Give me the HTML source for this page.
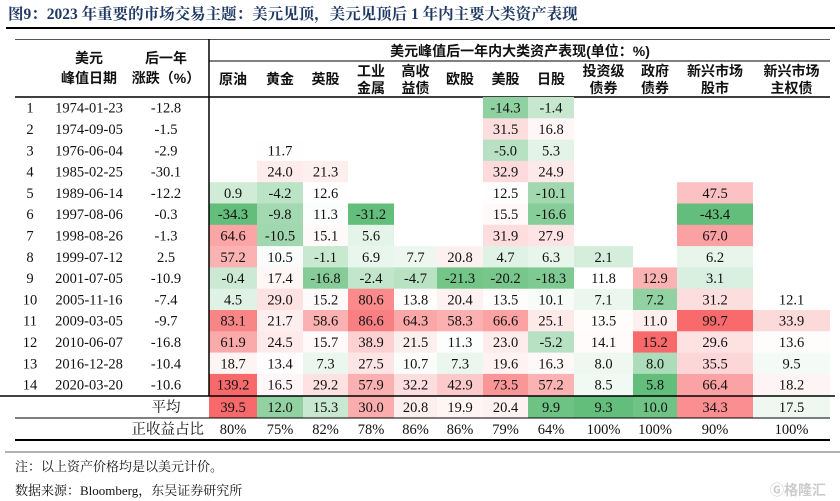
<!DOCTYPE html>
<html><head><meta charset="utf-8">
<style>
html,body{margin:0;padding:0;background:#fff;}
svg{display:block;}
.t{font-family:"Liberation Serif","Noto Serif CJK SC",serif;font-size:14.5px;fill:#111;}
.h{font-family:"Liberation Sans","Noto Sans CJK SC",sans-serif;font-size:14px;font-weight:bold;fill:#111;}
</style></head>
<body>
<svg id="chart" width="840" height="501" viewBox="0 0 840 501" xmlns="http://www.w3.org/2000/svg">
<text x="8" y="19" style="font-family:'Liberation Serif','Noto Serif CJK SC',serif;font-size:15.5px;font-weight:bold;fill:#1f3864">图9：2023 年重要的市场交易主题：美元见顶，美元见顶后 1 年内主要大类资产表现</text>
<line x1="6" y1="28" x2="835" y2="28" stroke="#000" stroke-width="2"/>
<line x1="15" y1="39.5" x2="830" y2="39.5" stroke="#555" stroke-width="1"/>
<line x1="209" y1="61" x2="830" y2="61" stroke="#000" stroke-width="1"/>
<line x1="15" y1="97" x2="830" y2="97" stroke="#000" stroke-width="1.5"/>
<text class="h" x="89" y="63" text-anchor="middle">美元</text>
<text class="h" x="89" y="83" text-anchor="middle">峰值日期</text>
<text class="h" x="166" y="63" text-anchor="middle">后一年</text>
<text class="h" x="166" y="83" text-anchor="middle">涨跌（%）</text>
<text class="h" x="520" y="56" text-anchor="middle">美元峰值后一年内大类资产表现(单位：%)</text>
<g id="cells"></g>
<g id="heads"></g>
<line x1="209" y1="39" x2="209" y2="396" stroke="#000" stroke-width="1.5"/>
<line x1="0" y1="396" x2="835" y2="396" stroke="#000" stroke-width="1.5"/>
<line x1="15" y1="418" x2="830" y2="418" stroke="#000" stroke-width="1"/>
<line x1="15" y1="440" x2="830" y2="440" stroke="#000" stroke-width="2"/>
<line x1="5" y1="452" x2="840" y2="452" stroke="#666" stroke-width="1"/>
<text x="15" y="471" style="font-family:'Liberation Serif','Noto Serif CJK SC',serif;font-size:13px;fill:#111">注：以上资产价格均是以美元计价。</text>
<text x="15" y="495" style="font-family:'Liberation Serif','Noto Serif CJK SC',serif;font-size:13px;fill:#111">数据来源：Bloomberg，东吴证券研究所</text>
<text x="770" y="495" style="font-family:'Liberation Sans','Noto Sans CJK SC',sans-serif;font-size:14px;font-weight:bold;fill:#ccc">Ⓖ格隆汇</text>
</svg>
<script>
const assets = ["原油","黄金","英股","工业|金属","高收|益债","欧股","美股","日股","投资级|债券","政府|债券","新兴市场|股市","新兴市场|主权债"];
const dates = ["1974-01-23","1974-09-05","1976-06-04","1985-02-25","1989-06-14","1997-08-06","1998-08-26","1999-07-12","2001-07-05","2005-11-16","2009-03-05","2010-06-07","2016-12-28","2020-03-20"];
const usdChange = ["-12.8","-1.5","-2.9","-30.1","-12.2","-0.3","-1.3","2.5","-10.9","-7.4","-9.7","-16.8","-10.4","-10.6"];
const r1 = [null,null,null,null,null,null,-14.3,-1.4,null,null,null,null];
const r2 = [null,null,null,null,null,null,31.5,16.8,null,null,null,null];
const r3 = [null,11.7,null,null,null,null,-5.0,5.3,null,null,null,null];
const r4 = [null,24.0,21.3,null,null,null,32.9,24.9,null,null,null,null];
const r5 = [0.9,-4.2,12.6,null,null,null,12.5,-10.1,null,null,47.5,null];
const r6 = [-34.3,-9.8,11.3,-31.2,null,null,15.5,-16.6,null,null,-43.4,null];
const r7 = [64.6,-10.5,15.1,5.6,null,null,31.9,27.9,null,null,67.0,null];
const r8 = [57.2,10.5,-1.1,6.9,7.7,20.8,4.7,6.3,2.1,null,6.2,null];
const r9 = [-0.4,17.4,-16.8,-2.4,-4.7,-21.3,-20.2,-18.3,11.8,12.9,3.1,null];
const r10 = [4.5,29.0,15.2,80.6,13.8,20.4,13.5,10.1,7.1,7.2,31.2,12.1];
const r11 = [83.1,21.7,58.6,86.6,64.3,58.3,66.6,25.1,13.5,11.0,99.7,33.9];
const r12 = [61.9,24.5,15.7,38.9,21.5,11.3,23.0,-5.2,14.1,15.2,29.6,13.6];
const r13 = [18.7,13.4,7.3,27.5,10.7,7.3,19.6,16.3,8.0,8.0,35.5,9.5];
const r14 = [139.2,16.5,29.2,57.9,32.2,42.9,73.5,57.2,8.5,5.8,66.4,18.2];
const values = [r1,r2,r3,r4,r5,r6,r7,r8,r9,r10,r11,r12,r13,r14];
const averages = [39.5,12.0,15.3,30.0,20.8,19.9,20.4,9.9,9.3,10.0,34.3,17.5];
const positiveShare = ["80%","75%","82%","78%","86%","86%","79%","64%","100%","100%","90%","100%"];

const colEdges = [209,257,303,348,394,437,483,528,574,633,677,753,830];
const top0 = 97, rowH = 21.3;
const NS = "http://www.w3.org/2000/svg";
const cells = document.getElementById("cells");
const heads = document.getElementById("heads");
function mix(a,b,t){t=Math.max(0,Math.min(1,t));return `rgb(${a.map((v,i)=>Math.round(v+(b[i]-v)*t)).join(",")})`;}
const W=[255,255,255], G=[99,190,123], R=[248,105,107];
function color(v,lo,mid,hi){return v<mid?mix(W,G,(mid-v)/(mid-lo)):mix(W,R,(v-mid)/(hi-mid));}
function colorFor(v,j){
  if(j===9){ // government bonds: column-relative scale
    const col=values.map(r=>r[j]).filter(x=>x!==null);
    const lo=Math.min(...col), hi=Math.max(...col);
    return color(v,lo,(lo+hi)/2,hi);
  }
  return color(v,-25,12,100);
}
function txt(x,y,s,cls,anchor){const t=document.createElementNS(NS,"text");t.setAttribute("x",x);t.setAttribute("y",y);t.setAttribute("class",cls);t.setAttribute("text-anchor",anchor||"middle");t.textContent=s;return t;}
function rect(x,y,w,h,f){const r=document.createElementNS(NS,"rect");r.setAttribute("x",x);r.setAttribute("y",y);r.setAttribute("width",w);r.setAttribute("height",h);r.setAttribute("fill",f);return r;}

assets.forEach((a,j)=>{
  const cx=(colEdges[j]+colEdges[j+1])/2;
  const parts=a.split("|");
  const g=document.createElementNS(NS,"g");
  
  
  if(parts.length===1){g.appendChild(txt(cx,84,parts[0],"h"));}
  else{g.appendChild(txt(cx,76,parts[0],"h"));g.appendChild(txt(cx,93,parts[1],"h"));}
  heads.appendChild(g);
});

values.forEach((row,i)=>{
  const y=top0+i*rowH, ty=y+rowH/2+5;
  const g=document.createElementNS(NS,"g");
  
  
  g.appendChild(txt(30,ty,String(i+1),"t"));
  g.appendChild(txt(89,ty,dates[i],"t"));
  g.appendChild(txt(166,ty,usdChange[i],"t"));
  row.forEach((v,j)=>{
    if(v===null) return;
    const x0=colEdges[j], w=colEdges[j+1]-x0;
    const r=rect(x0,y,w,rowH+0.3,colorFor(v,j));
    
    
    g.appendChild(r);
    g.appendChild(txt(x0+w/2,ty,v.toFixed(1),"t"));
  });
  cells.appendChild(g);
});

const ay=396, ah=22;
const ag=document.createElementNS(NS,"g");


ag.appendChild(txt(166,ay+16,"平均","t"));
averages.forEach((v,j)=>{
  const x0=colEdges[j], w=colEdges[j+1]-x0;
  const r=rect(x0,ay,w,ah,color(v,9.3,18.5,39.5));
  
  
  ag.appendChild(r);
  ag.appendChild(txt(x0+w/2,ay+16,v.toFixed(1),"t"));
});
cells.appendChild(ag);

const pg=document.createElementNS(NS,"g");


pg.appendChild(txt(204,434,"正收益占比","t","end"));
positiveShare.forEach((s,j)=>{
  const cx=(colEdges[j]+colEdges[j+1])/2;
  pg.appendChild(txt(cx,434,s,"t"));
});
cells.appendChild(pg);
</script>
</body></html>
